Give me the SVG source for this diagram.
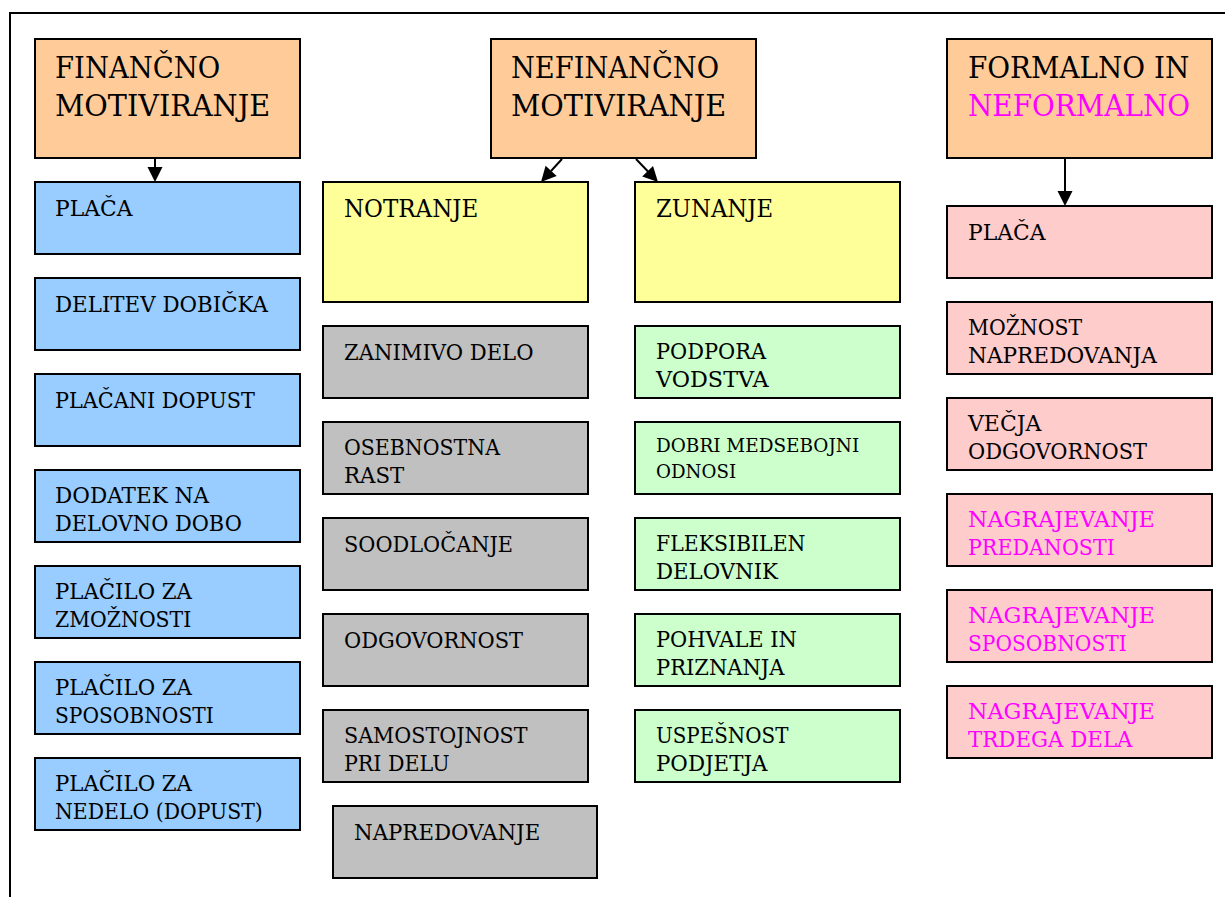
<svg xmlns="http://www.w3.org/2000/svg" width="1225" height="897" viewBox="0 0 1225 897">
  <defs>
    <style>
      .box { stroke: #000; stroke-width: 2; }
      .head { fill: #FFCC99; }
      .fin { fill: #99CCFF; }
      .yel { fill: #FFFF99; }
      .gry { fill: #C0C0C0; }
      .grn { fill: #CCFFCC; }
      .pnk { fill: #FFCCCC; }
      .t32 { font-size: 29px; }
      .t25 { font-size: 23.6px; }
      .t24 { font-size: 21.6px; }
      .t21 { font-size: 19.3px; }
      .mag { fill: #FF00FF; }
      .conn { stroke: #000; stroke-width: 2; fill: none; }
      .tip { fill: #000; }
    </style>
  </defs>
  <rect width="1225" height="897" fill="#fff"/>

  <!-- page frame -->
  <path d="M10,897 V13 H1225" fill="none" stroke="#000" stroke-width="2"/>

  <g font-family="DejaVu Serif, serif" fill="#000" lengthAdjust="spacingAndGlyphs">
  <!-- column 1: financial -->
  <g id="financno">
    <rect class="box head" x="35" y="39" width="265" height="119"/>
    <text class="t32" x="55" y="78" textLength="165.3" lengthAdjust="spacingAndGlyphs">FINANČNO</text>
    <text class="t32" x="55" y="116" textLength="215.1" lengthAdjust="spacingAndGlyphs">MOTIVIRANJE</text>
  </g>
  <g id="fin-placa">
    <rect class="box fin" x="35" y="182" width="265" height="72"/>
    <text class="t24" x="55" y="216" textLength="77.4" lengthAdjust="spacingAndGlyphs">PLAČA</text>
  </g>
  <g id="fin-delitev">
    <rect class="box fin" x="35" y="278" width="265" height="72"/>
    <text class="t24" x="55" y="312" textLength="213" lengthAdjust="spacingAndGlyphs">DELITEV DOBIČKA</text>
  </g>
  <g id="fin-dopust">
    <rect class="box fin" x="35" y="374" width="265" height="72"/>
    <text class="t24" x="55" y="408" textLength="199.9" lengthAdjust="spacingAndGlyphs">PLAČANI DOPUST</text>
  </g>
  <g id="fin-dodatek">
    <rect class="box fin" x="35" y="470" width="265" height="72"/>
    <text class="t24" x="55" y="503" textLength="154" lengthAdjust="spacingAndGlyphs">DODATEK NA</text>
    <text class="t24" x="55" y="531" textLength="186.8" lengthAdjust="spacingAndGlyphs">DELOVNO DOBO</text>
  </g>
  <g id="fin-zmoznosti">
    <rect class="box fin" x="35" y="566" width="265" height="72"/>
    <text class="t24" x="55" y="599" textLength="137" lengthAdjust="spacingAndGlyphs">PLAČILO ZA</text>
    <text class="t24" x="55" y="627" textLength="136.3" lengthAdjust="spacingAndGlyphs">ZMOŽNOSTI</text>
  </g>
  <g id="fin-sposobnosti">
    <rect class="box fin" x="35" y="662" width="265" height="72"/>
    <text class="t24" x="55" y="695" textLength="137" lengthAdjust="spacingAndGlyphs">PLAČILO ZA</text>
    <text class="t24" x="55" y="723" textLength="158.7" lengthAdjust="spacingAndGlyphs">SPOSOBNOSTI</text>
  </g>
  <g id="fin-nedelo">
    <rect class="box fin" x="35" y="758" width="265" height="72"/>
    <text class="t24" x="55" y="791" textLength="137" lengthAdjust="spacingAndGlyphs">PLAČILO ZA</text>
    <text class="t24" x="55" y="819" textLength="207.8" lengthAdjust="spacingAndGlyphs">NEDELO (DOPUST)</text>
  </g>

  <!-- column 2: non-financial -->
  <g id="nefinancno">
    <rect class="box head" x="491" y="39" width="265" height="119"/>
    <text class="t32" x="511" y="78" textLength="208" lengthAdjust="spacingAndGlyphs">NEFINANČNO</text>
    <text class="t32" x="511" y="116" textLength="215.1" lengthAdjust="spacingAndGlyphs">MOTIVIRANJE</text>
  </g>
  <g id="notranje">
    <rect class="box yel" x="323" y="182" width="265" height="120"/>
    <text class="t25" x="344" y="217" textLength="134.3" lengthAdjust="spacingAndGlyphs">NOTRANJE</text>
  </g>
  <g id="zunanje">
    <rect class="box yel" x="635" y="182" width="265" height="120"/>
    <text class="t25" x="656" y="217" textLength="117" lengthAdjust="spacingAndGlyphs">ZUNANJE</text>
  </g>

  <g id="not-delo">
    <rect class="box gry" x="323" y="326" width="265" height="72"/>
    <text class="t24" x="344" y="360" textLength="189.5" lengthAdjust="spacingAndGlyphs">ZANIMIVO DELO</text>
  </g>
  <g id="not-rast">
    <rect class="box gry" x="323" y="422" width="265" height="72"/>
    <text class="t24" x="344" y="455" textLength="156" lengthAdjust="spacingAndGlyphs">OSEBNOSTNA</text>
    <text class="t24" x="344" y="483" textLength="60.3" lengthAdjust="spacingAndGlyphs">RAST</text>
  </g>
  <g id="not-soodlocanje">
    <rect class="box gry" x="323" y="518" width="265" height="72"/>
    <text class="t24" x="344" y="552" textLength="169.1" lengthAdjust="spacingAndGlyphs">SOODLOČANJE</text>
  </g>
  <g id="not-odgovornost">
    <rect class="box gry" x="323" y="614" width="265" height="72"/>
    <text class="t24" x="344" y="648" textLength="179.1" lengthAdjust="spacingAndGlyphs">ODGOVORNOST</text>
  </g>
  <g id="not-samostojnost">
    <rect class="box gry" x="323" y="710" width="265" height="72"/>
    <text class="t24" x="344" y="743" textLength="183.6" lengthAdjust="spacingAndGlyphs">SAMOSTOJNOST</text>
    <text class="t24" x="344" y="771" textLength="105.5" lengthAdjust="spacingAndGlyphs">PRI DELU</text>
  </g>
  <g id="not-napredovanje">
    <rect class="box gry" x="333" y="806" width="264" height="72"/>
    <text class="t24" x="354" y="840" textLength="186.2" lengthAdjust="spacingAndGlyphs">NAPREDOVANJE</text>
  </g>

  <g id="zun-vodstvo">
    <rect class="box grn" x="635" y="326" width="265" height="72"/>
    <text class="t24" x="656" y="359" textLength="110.1" lengthAdjust="spacingAndGlyphs">PODPORA</text>
    <text class="t24" x="656" y="387" textLength="112.7" lengthAdjust="spacingAndGlyphs">VODSTVA</text>
  </g>
  <g id="zun-odnosi">
    <rect class="box grn" x="635" y="422" width="265" height="72"/>
    <text class="t21" x="656" y="452" textLength="203.2" lengthAdjust="spacingAndGlyphs">DOBRI MEDSEBOJNI</text>
    <text class="t21" x="656" y="478" textLength="80.1" lengthAdjust="spacingAndGlyphs">ODNOSI</text>
  </g>
  <g id="zun-delovnik">
    <rect class="box grn" x="635" y="518" width="265" height="72"/>
    <text class="t24" x="656" y="551" textLength="149.5" lengthAdjust="spacingAndGlyphs">FLEKSIBILEN</text>
    <text class="t24" x="656" y="579" textLength="121.9" lengthAdjust="spacingAndGlyphs">DELOVNIK</text>
  </g>
  <g id="zun-pohvale">
    <rect class="box grn" x="635" y="614" width="265" height="72"/>
    <text class="t24" x="656" y="647" textLength="140.9" lengthAdjust="spacingAndGlyphs">POHVALE IN</text>
    <text class="t24" x="656" y="675" textLength="128.5" lengthAdjust="spacingAndGlyphs">PRIZNANJA</text>
  </g>
  <g id="zun-uspesnost">
    <rect class="box grn" x="635" y="710" width="265" height="72"/>
    <text class="t24" x="656" y="743" textLength="132.4" lengthAdjust="spacingAndGlyphs">USPEŠNOST</text>
    <text class="t24" x="656" y="771" textLength="111.4" lengthAdjust="spacingAndGlyphs">PODJETJA</text>
  </g>

  <!-- column 3: formal and informal -->
  <g id="formalno">
    <rect class="box head" x="947" y="39" width="265" height="119"/>
    <text class="t32" x="968" y="78" textLength="221.3" lengthAdjust="spacingAndGlyphs">FORMALNO IN</text>
    <text class="t32 mag" x="968" y="116" textLength="222.2" lengthAdjust="spacingAndGlyphs">NEFORMALNO</text>
  </g>
  <g id="for-placa">
    <rect class="box pnk" x="947" y="206" width="265" height="72"/>
    <text class="t24" x="968" y="240" textLength="77.4" lengthAdjust="spacingAndGlyphs">PLAČA</text>
  </g>
  <g id="for-napredovanje">
    <rect class="box pnk" x="947" y="302" width="265" height="72"/>
    <text class="t24" x="968" y="335" textLength="114.1" lengthAdjust="spacingAndGlyphs">MOŽNOST</text>
    <text class="t24" x="968" y="363" textLength="188.8" lengthAdjust="spacingAndGlyphs">NAPREDOVANJA</text>
  </g>
  <g id="for-odgovornost">
    <rect class="box pnk" x="947" y="398" width="265" height="72"/>
    <text class="t24" x="968" y="431" textLength="73.4" lengthAdjust="spacingAndGlyphs">VEČJA</text>
    <text class="t24" x="968" y="459" textLength="179.1" lengthAdjust="spacingAndGlyphs">ODGOVORNOST</text>
  </g>
  <g id="for-predanost">
    <rect class="box pnk" x="947" y="494" width="265" height="72"/>
    <text class="t24 mag" x="968" y="527" textLength="186.9" lengthAdjust="spacingAndGlyphs">NAGRAJEVANJE</text>
    <text class="t24 mag" x="968" y="555" textLength="146.8" lengthAdjust="spacingAndGlyphs">PREDANOSTI</text>
  </g>
  <g id="for-sposobnost">
    <rect class="box pnk" x="947" y="590" width="265" height="72"/>
    <text class="t24 mag" x="968" y="623" textLength="186.9" lengthAdjust="spacingAndGlyphs">NAGRAJEVANJE</text>
    <text class="t24 mag" x="968" y="651" textLength="158.7" lengthAdjust="spacingAndGlyphs">SPOSOBNOSTI</text>
  </g>
  <g id="for-trud">
    <rect class="box pnk" x="947" y="686" width="265" height="72"/>
    <text class="t24 mag" x="968" y="719" textLength="186.9" lengthAdjust="spacingAndGlyphs">NAGRAJEVANJE</text>
    <text class="t24 mag" x="968" y="747" textLength="164.5" lengthAdjust="spacingAndGlyphs">TRDEGA DELA</text>
  </g>
  </g>

  <!-- connectors: shaft lines plus filled arrow tips -->
  <g id="connectors">
    <line class="conn" x1="155" y1="159" x2="155" y2="168"/>
    <polygon class="tip" points="147.5,167 162.5,167 155,182"/>
    <line class="conn" x1="562" y1="159" x2="551" y2="171"/>
    <polygon class="tip" points="556.7,176 545.6,165.8 541,182"/>
    <line class="conn" x1="636" y1="159" x2="648" y2="171.5"/>
    <polygon class="tip" points="642.2,176.4 653,166 658,182"/>
    <line class="conn" x1="1065" y1="159" x2="1065" y2="192"/>
    <polygon class="tip" points="1057.5,191 1072.5,191 1065,206"/>
  </g>
</svg>
